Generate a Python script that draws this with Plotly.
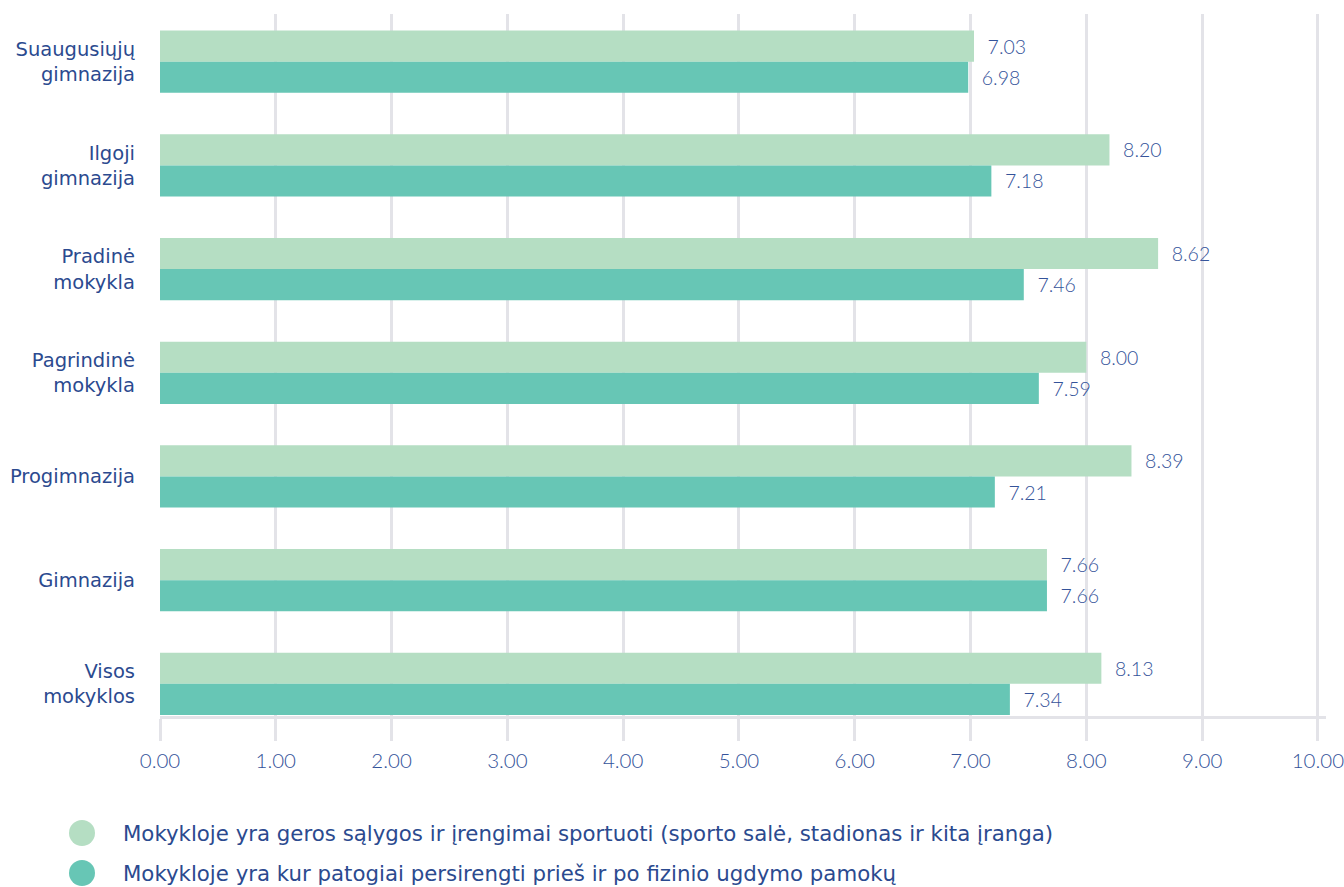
import plotly.graph_objects as go

# School types, listed top to bottom
categories = [
    "Suaugusiųjų<br>gimnazija",
    "Ilgoji<br>gimnazija",
    "Pradinė<br>mokykla",
    "Pagrindinė<br>mokykla",
    "Progimnazija",
    "Gimnazija",
    "Visos<br>mokyklos",
]
# Average scores for each statement
sports_conditions = [7.03, 8.20, 8.62, 8.00, 8.39, 7.66, 8.13]
changing_rooms = [6.98, 7.18, 7.46, 7.59, 7.21, 7.66, 7.34]

series_names = [
    "Mokykloje yra geros sąlygos ir įrengimai sportuoti (sporto salė, stadionas ir kita įranga)",
    "Mokykloje yra kur patogiai persirengti prieš ir po fizinio ugdymo pamokų",
]
series_colors = ["#b5dec3", "#67c6b5"]
x_ticks = [0, 1, 2, 3, 4, 5, 6, 7, 8, 9, 10]

FONT = "DejaVu Sans"
NUM_FONT = "Lato"
LABEL_BLUE = "#2b4a8f"
VALUE_BLUE = "#34539a"
GRID = "#e3e3e8"

fig = go.Figure()
for name, vals, col in zip(series_names, [sports_conditions, changing_rooms], series_colors):
    fig.add_trace(go.Bar(
        y=categories, x=vals, orientation="h", name=name,
        marker=dict(color=col, line=dict(width=0)),
        texttemplate="  %{x:.2f}", textposition="outside",
        textfont=dict(family=NUM_FONT, size=19.5, color=VALUE_BLUE, weight=300),
        cliponaxis=False, showlegend=False,
    ))

# Plot area geometry in pixels (used to place the custom legend)
W, H = 1344, 887
ML, MR, MT, MB = 160, 18, 14, 171
pw, ph = W - ML - MR, H - MT - MB

shapes = []
annotations = []
legend_rows = [833, 873]
for name, col, py in zip(series_names, series_colors, legend_rows):
    xp = (82 - ML) / pw
    yp = (H - MB - py) / ph
    shapes.append(dict(
        type="circle", xref="paper", yref="paper",
        xsizemode="pixel", ysizemode="pixel",
        xanchor=xp, yanchor=yp, x0=-13, x1=13, y0=-13, y1=13,
        fillcolor=col, line=dict(width=0),
    ))
    annotations.append(dict(
        xref="paper", yref="paper", x=(121 - ML) / pw, y=yp,
        xanchor="left", yanchor="middle", text=name, showarrow=False,
        font=dict(family=FONT, size=21.3, color=LABEL_BLUE),
    ))

fig.update_layout(
    width=W, height=H,
    margin=dict(l=ML, r=MR, t=MT, b=MB, autoexpand=False),
    barmode="group", bargap=0.4, bargroupgap=0,
    plot_bgcolor="white", paper_bgcolor="white",
    shapes=shapes, annotations=annotations,
    font=dict(family=FONT, color=LABEL_BLUE),
    xaxis=dict(
        range=[0, 10.07], tickvals=x_ticks,
        ticktext=[f"{v:.2f}" for v in x_ticks],
        automargin=False, ticklabeloverflow="allow",
        showgrid=True, gridcolor=GRID, gridwidth=3,
        zeroline=False,
        showline=True, linecolor=GRID, linewidth=3,
        ticks="outside", ticklen=22, tickwidth=3, tickcolor=GRID,
        ticklabelstandoff=2,
        tickfont=dict(family=NUM_FONT, size=20.5, color=VALUE_BLUE, weight=300),
    ),
    yaxis=dict(
        range=[6.31, -0.46], automargin=False,
        showgrid=False, zeroline=False, showline=False,
        ticks="", ticklabelstandoff=24,
        tickfont=dict(family=FONT, size=19.5, color=LABEL_BLUE),
    ),
)

fig.write_html("out.html")
